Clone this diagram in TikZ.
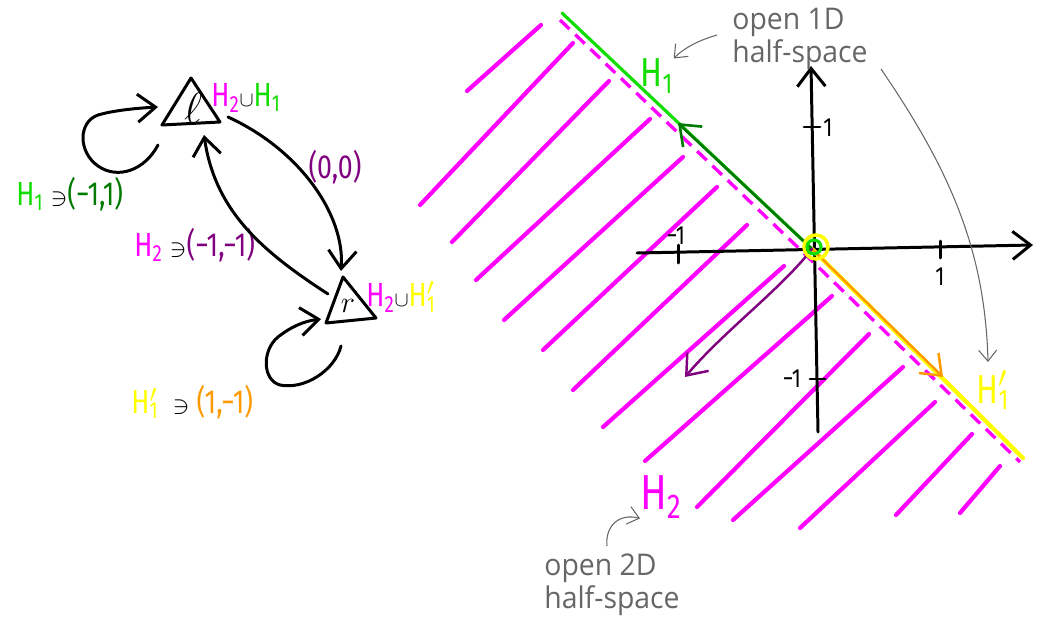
\documentclass[tikz,border=0pt]{standalone}
\usepackage{fontspec}
\setmainfont{Fira Sans}
\newfontfamily\hand[FakeStretch=0.8]{Fira Sans}
\newfontfamily\notefont[FakeStretch=0.95]{Open Sans}
\usetikzlibrary{arrows.meta}
\definecolor{mag}{HTML}{FF00FF}
\definecolor{lgreen}{HTML}{11DD00}
\definecolor{dgreen}{HTML}{007A00}
\definecolor{purp}{HTML}{800080}
\definecolor{yel}{HTML}{FFFF00}
\definecolor{orng}{HTML}{FF9900}
\definecolor{notegray}{HTML}{666666}
\newcommand{\uni}{{\fontsize{13}{13}\selectfont$\cup$}}
\newcommand{\cont}{{\fontsize{15}{15}\selectfont$\ni$}}
\tikzset{
  ink/.style={line width=1.7pt, line cap=round, line join=round},
  tip/.style={-{Straight Barb[length=3.6mm,width=5.6mm]}},
  smalltip/.style={-{Straight Barb[length=2.2mm,width=3.6mm]}},
  hatch/.style={mag, line width=2.4pt, line cap=round},
  sym/.style={inner sep=0pt},
  lab/.style={inner sep=0pt, font=\hand\fontsize{19}{20}\selectfont},
  big/.style={inner sep=0pt, font=\hand\fontsize{23}{24}\selectfont},
  tick/.style={inner sep=0pt, font=\hand\fontsize{15}{15}\selectfont},
  notetext/.style={text=notegray, inner sep=0pt, align=left, font=\notefont\fontsize{17}{19}\selectfont},
  notearrow/.style={notegray, line width=0.6pt, smalltip},
}
\begin{document}
\begin{tikzpicture}[x=0.2mm,y=-0.2mm]
\useasboundingbox (0,0) rectangle (1045,620);

% ---------- left graph ----------
\draw[ink] (191,78) -- (162,125) -- (220,122) -- cycle;
\node[sym, font=\fontsize{23}{23}\selectfont] (l) at (193,108) {$\ell$};
\draw[ink] (343,277) -- (326,323) -- (376,318) -- cycle;
\node[sym, font=\fontsize{18}{18}\selectfont] (r) at (348,306) {$r$};

\node[lab, anchor=west] (llab) at (211,98) {\textcolor{mag}{H\textsubscript{2}}\uni\textcolor{lgreen}{H\textsubscript{1}}};
\node[lab, anchor=west] (rlab) at (366,297) {\textcolor{mag}{H\textsubscript{2}}\uni\textcolor{yel}{H\rlap{$^{\prime}$}\textsubscript{1}}};

\node[lab, anchor=west] (h1lab) at (16,194) {\textcolor{lgreen}{H\textsubscript{1}} \cont\textcolor{dgreen}{(−1,1)}};
\node[lab, anchor=center, text=purp] (zlab) at (335,167) {(0,0)};
\node[lab, anchor=west] (h2lab) at (134,245) {\textcolor{mag}{H\textsubscript{2}} \cont\textcolor{purp}{(−1,−1)}};
\node[lab, anchor=west] (h1plab) at (131,402) {\textcolor{yel}{H\rlap{$^{\prime}$}\textsubscript{1}} \ \cont\ \textcolor{orng}{(1,−1)}};

% loop on l
\draw[ink, tip] ([shift={(-35,37)}]l.center) .. controls (145,170) and (118,180) .. (98,166)
  .. controls (78,152) and (78,122) .. (98,115) .. controls (115,110) and (140,108) .. ([shift={(-35,-1)}]l.center);
% l -> r
\draw[ink, tip] ([shift={(35,9)}]l.center) .. controls (300,150) and (345,215) .. ([shift={(-7,-35)}]r.center);
% r -> l
\draw[ink, tip] ([shift={(-20,-12)}]r.center) .. controls (260,250) and (215,210) .. ([shift={(11,27)}]l.center);
% loop on r
\draw[ink, tip] ([shift={(-7,40)}]r.center) .. controls (335,370) and (305,390) .. (280,385)
  .. controls (262,380) and (262,350) .. (278,337) .. controls (292,326) and (305,321) .. ([shift={(-27,13)}]r.center);

% ---------- right plot ----------
\coordinate (O) at (812,249);
\foreach \a/\b/\c/\d in {467/91/541/25, 420/205/573/43, 452/242/609/81, 476/280/650/119,
  504/320/683/157, 543/350/717/187, 573/390/747/225, 603/427/784/266, 645/461/832/296,
  697/507/869/334, 733/520/903/367, 800/528/935/402, 896/515/972/434, 960/513/1000/466}
  \draw[hatch] (\a,\b) -- (\c,\d);

\draw[mag, line width=1.9pt, dash pattern=on 7.5pt off 4.5pt] (560,20) -- (810,259) -- (1020,462);

% axes
\draw[ink, tip] (637,253) -- (1033,245);
\draw[ink, tip] (818,432) -- (811,66);
\draw[ink] (678,245) -- (678,263);
\draw[ink] (940,241) -- (940,258);
\draw[ink] (804,127) -- (820,127);
\draw[ink] (810,379) -- (825,379);
\node[tick] (txm) at (676,236) {−1};
\node[tick] (txp) at (940,277) {1};
\node[tick] (typ) at (828,128) {1};
\node[tick] (tym) at (792,379) {−1};

% boundary lines
\draw[lgreen, line width=1.8pt, line cap=round] (562,13) -- (O);
\draw[yel, line width=2.4pt, line cap=round] (O) -- (1023,458);
\draw[dgreen, line width=1.5pt, line cap=round, tip] (O) -- (678,123);
\draw[orng, line width=1.4pt, line cap=round, tip] (O) -- (943,377);
\draw[purp, line width=1.4pt, line cap=round, tip] (O) .. controls (780,290) and (725,330) .. (685,377);
\draw[yel, line width=2pt] (816,247) circle[radius=2.4mm];
\draw[lgreen, line width=1.8pt] (814,247) circle[radius=1.4mm];

% labels
\node[big, text=lgreen] (H1) at (657,76) {H\textsubscript{1}};
\node[big, text=yel] (H1p) at (993,390) {H\rlap{$^{\prime}$}\textsubscript{1}};
\node[big, text=mag, font=\hand\fontsize{28}{28}\selectfont] (H2) at (661,497) {H\textsubscript{2}};

% notes
\node[notetext, anchor=west] (n1) at (732,39) {open 1D\\half-space};
\node[notetext, anchor=west] (n2) at (544,585) {open 2D\\half-space};
\draw[notearrow] (717,35) .. controls (700,40) and (685,47) .. (H1.north east);
\draw[notearrow] (881,69) .. controls (950,170) and (985,250) .. (988,362);
\draw[notearrow] (607,546) .. controls (605,525) and (620,513) .. (H2.south west);
\end{tikzpicture}
\end{document}
